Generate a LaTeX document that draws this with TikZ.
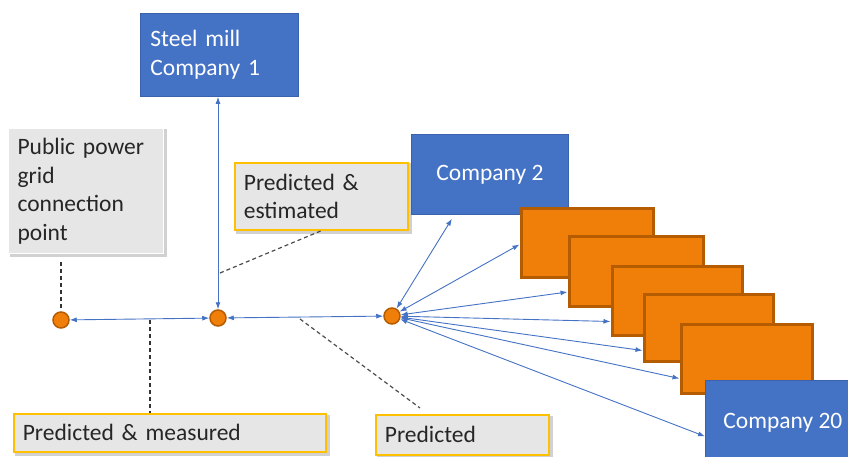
\documentclass[tikz,border=0pt]{standalone}
\usepackage{fontspec}
\setmainfont{Carlito}
\usetikzlibrary{arrows.meta}
\pgfdeclarelayer{bg}
\pgfsetlayers{bg,main}
\definecolor{cblue}{HTML}{4472C4}
\definecolor{cblueb}{HTML}{3A62AC}
\definecolor{cgray}{HTML}{E7E6E6}
\definecolor{cyell}{HTML}{FFC000}
\definecolor{corange}{RGB}{240,127,10}
\definecolor{cobord}{RGB}{182,92,0}
\definecolor{ctext}{HTML}{262626}
\begin{document}
\begin{tikzpicture}[x=1pt,y=-1pt,
  every node/.style={font=\fontsize{23.5}{28.5}\selectfont},
  bluebox/.style={fill=cblue, draw=cblueb, line width=0.8pt, text=white, anchor=north west, inner ysep=0pt},
  graybox/.style={fill=cgray, draw=cyell, line width=1.7pt, text=ctext, align=left, anchor=north west,
    inner xsep=9pt, inner ysep=0pt},
  shade/.style={fill=black, opacity=0.18},
  orbox/.style={fill=corange, draw=cobord, line width=3pt, anchor=north west, inner sep=0pt},
  dot/.style={circle, fill=corange, draw=cobord, line width=1.5pt, minimum size=16pt, inner sep=0pt},
  link/.style={cblue, line width=0.9pt, {Latex[length=7pt,width=5pt]}-{Latex[length=7pt,width=5pt]}},
  dline/.style={draw=black!80, line width=1.2pt, dash pattern=on 4pt off 3pt}]
\useasboundingbox (0,0) rectangle (848,457);

% gray label boxes
\node[graybox, draw=white, line width=1.2pt, minimum width=155pt, minimum height=125pt, text width=137pt] (pp) at (8,128)
  {Public power\\grid\\connection\\point};
\node[graybox, minimum width=173pt, minimum height=67pt, text width=155pt] (pe) at (234,162)
  {Predicted \&\\estimated};
\node[graybox, minimum width=312pt, minimum height=38pt, text width=294pt] (pm) at (13,413)
  {Predicted \& measured};
\node[graybox, minimum width=173pt, minimum height=40pt, text width=155pt] (pr) at (375,414)
  {Predicted};
\begin{pgfonlayer}{bg}
  \foreach \b in {pp,pe,pm,pr}
    \fill[shade] ([shift={(1.5,1.5)}]\b.north west) rectangle ([shift={(3,3)}]\b.south east);
\end{pgfonlayer}

% blue company boxes
\node[bluebox, minimum width=158pt, minimum height=83pt, text width=138pt, inner xsep=10pt, align=left] (sm) at (140,13)
  {Steel mill\\Company 1};
\node[bluebox, minimum width=157pt, minimum height=80pt] (c2) at (411,134) {Company 2};

% orange companies
\node[orbox, minimum width=132pt, minimum height=69pt] (o1) at (519.5,206.5) {};
\node[orbox, minimum width=134pt, minimum height=70pt] (o2) at (567.5,234.5) {};
\node[orbox, minimum width=130pt, minimum height=69pt] (o3) at (610.5,264.5) {};
\node[orbox, minimum width=129pt, minimum height=67pt] (o4) at (642.5,292.5) {};
\node[orbox, minimum width=131pt, minimum height=69pt] (o5) at (679.5,322.5) {};

\node[bluebox, minimum width=155pt, minimum height=84pt] (c20) at (705,380) {Company 20};

% nodes on the line
\node[dot] (n1) at (61,320) {};
\node[dot] (n2) at (218,318) {};
\node[dot] (n3) at (392,316) {};

% connectors
\draw[link] (n1) -- (n2);
\draw[link] (n2) -- (n3);
\draw[link] (n2) -- (n2 |- sm.south);
\draw[link] (n3) -- ([xshift=-38pt,yshift=-4pt]c2.south);
\draw[link] (n3) -- ([yshift=-2pt]o1.west);
\draw[link] (n3) -- ([yshift=-21pt]o2.west);
\draw[link] (n3) -- ([yshift=-21pt]o3.west);
\draw[link] (n3) -- ([yshift=-23pt]o4.west);
\draw[link] (n3) -- ([yshift=-20pt]o5.west);
\draw[link] (n3) -- ([yshift=-14pt]c20.west);

% dashed leaders
\coordinate (a1) at (61,262);
\draw[dline] (a1) -- ([yshift=2pt]n1.north);
\coordinate (d1) at (150,320);
\draw[dline] (d1) -- (d1 |- pm.north);
\coordinate (d2) at (220,273);
\draw[dline, draw=black!70] (d2) -- (pe.south);
\coordinate (d3) at (300,319);
\coordinate (d4) at (420,408);
\draw[dline, draw=black!70] (d3) -- (d4);
\end{tikzpicture}
\end{document}
